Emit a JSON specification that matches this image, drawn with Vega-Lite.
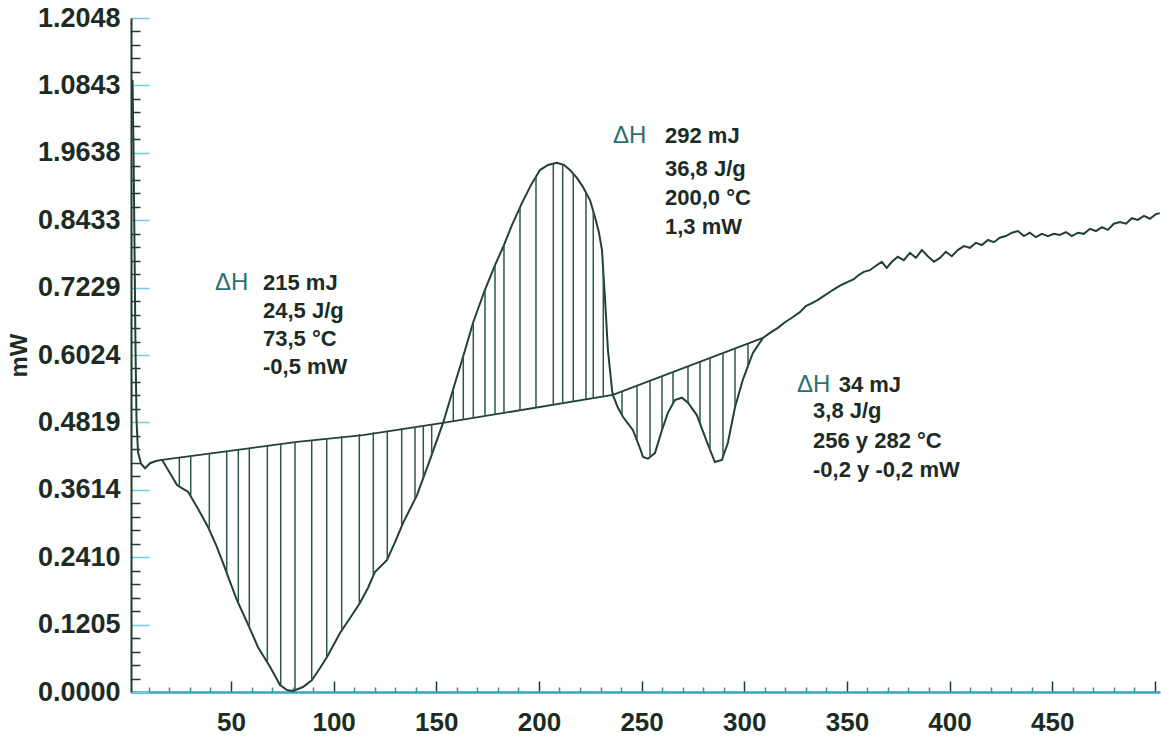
{
  "$schema": "https://vega.github.io/schema/vega-lite/v6.json",
  "width": 1029,
  "height": 674,
  "autosize": {"type": "none"},
  "padding": {"left": 131, "top": 18, "right": 1, "bottom": 47},
  "background": "white",
  "config": {"view": {"stroke": null}},
  "datasets": {
    "curve": [
      {"x": 2.05, "y": 1.094}, {"x": 2.53, "y": 0.969}, {"x": 3.02, "y": 0.79}, {"x": 3.51, "y": 0.611},
      {"x": 3.99, "y": 0.486}, {"x": 4.72, "y": 0.429}, {"x": 6.18, "y": 0.408}, {"x": 8.13, "y": 0.4},
      {"x": 10.57, "y": 0.409}, {"x": 13.49, "y": 0.413}, {"x": 16.41, "y": 0.415}, {"x": 20.31, "y": 0.391},
      {"x": 23.72, "y": 0.37}, {"x": 26.64, "y": 0.363}, {"x": 29.1, "y": 0.358}, {"x": 34.0, "y": 0.327},
      {"x": 38.82, "y": 0.295}, {"x": 42.71, "y": 0.263}, {"x": 46.12, "y": 0.231}, {"x": 49.53, "y": 0.197},
      {"x": 52.94, "y": 0.164}, {"x": 57.81, "y": 0.125}, {"x": 63.17, "y": 0.08}, {"x": 69.01, "y": 0.045},
      {"x": 73.88, "y": 0.0125}, {"x": 77.29, "y": 0.0036}, {"x": 80.21, "y": 0.0018}, {"x": 85.08, "y": 0.0089},
      {"x": 89.47, "y": 0.0215}, {"x": 93.36, "y": 0.0429}, {"x": 96.77, "y": 0.0626}, {"x": 103.1, "y": 0.1055},
      {"x": 108.0, "y": 0.1323}, {"x": 112.8, "y": 0.1591}, {"x": 116.7, "y": 0.1859}, {"x": 120.1, "y": 0.2145},
      {"x": 126.0, "y": 0.236}, {"x": 129.9, "y": 0.268}, {"x": 133.8, "y": 0.302}, {"x": 140.6, "y": 0.352},
      {"x": 146.9, "y": 0.415}, {"x": 153.3, "y": 0.481}, {"x": 159.1, "y": 0.552}, {"x": 164.0, "y": 0.611},
      {"x": 167.9, "y": 0.66}, {"x": 173.7, "y": 0.719}, {"x": 178.6, "y": 0.763}, {"x": 182.5, "y": 0.795},
      {"x": 186.9, "y": 0.835}, {"x": 191.7, "y": 0.874}, {"x": 196.1, "y": 0.906}, {"x": 200.5, "y": 0.933},
      {"x": 204.4, "y": 0.942}, {"x": 208.7, "y": 0.946}, {"x": 212.2, "y": 0.942}, {"x": 215.1, "y": 0.933},
      {"x": 218.5, "y": 0.919}, {"x": 221.4, "y": 0.903}, {"x": 224.9, "y": 0.879}, {"x": 227.3, "y": 0.849},
      {"x": 229.2, "y": 0.822}, {"x": 230.7, "y": 0.79}, {"x": 232.2, "y": 0.701}, {"x": 233.6, "y": 0.611},
      {"x": 235.6, "y": 0.54}, {"x": 236.0, "y": 0.531}, {"x": 238.5, "y": 0.508}, {"x": 240.9, "y": 0.492},
      {"x": 245.8, "y": 0.468}, {"x": 249.2, "y": 0.436}, {"x": 250.7, "y": 0.42}, {"x": 253.1, "y": 0.417},
      {"x": 256.5, "y": 0.427}, {"x": 259.9, "y": 0.468}, {"x": 262.8, "y": 0.499}, {"x": 266.2, "y": 0.522},
      {"x": 269.6, "y": 0.526}, {"x": 272.6, "y": 0.517}, {"x": 276.9, "y": 0.495}, {"x": 281.8, "y": 0.447},
      {"x": 285.7, "y": 0.411}, {"x": 289.1, "y": 0.415}, {"x": 292.0, "y": 0.445}, {"x": 295.5, "y": 0.509},
      {"x": 299.3, "y": 0.558}, {"x": 304.2, "y": 0.606}, {"x": 309.1, "y": 0.633}, {"x": 312.5, "y": 0.642},
      {"x": 316.4, "y": 0.651}, {"x": 319.8, "y": 0.661}, {"x": 323.2, "y": 0.669}, {"x": 327.1, "y": 0.679},
      {"x": 330.0, "y": 0.69}, {"x": 333.0, "y": 0.695}, {"x": 335.9, "y": 0.701}, {"x": 338.8, "y": 0.708},
      {"x": 341.7, "y": 0.715}, {"x": 344.6, "y": 0.722}, {"x": 347.5, "y": 0.728}, {"x": 350.5, "y": 0.733},
      {"x": 353.4, "y": 0.738}, {"x": 355.3, "y": 0.744}, {"x": 358.2, "y": 0.751}, {"x": 361.2, "y": 0.754},
      {"x": 364.1, "y": 0.762}, {"x": 367.0, "y": 0.769}, {"x": 369.4, "y": 0.758}, {"x": 371.9, "y": 0.769},
      {"x": 374.8, "y": 0.778}, {"x": 377.7, "y": 0.772}, {"x": 380.7, "y": 0.785}, {"x": 383.6, "y": 0.776},
      {"x": 386.5, "y": 0.79}, {"x": 389.4, "y": 0.779}, {"x": 392.4, "y": 0.769}, {"x": 395.3, "y": 0.776},
      {"x": 398.2, "y": 0.787}, {"x": 401.1, "y": 0.779}, {"x": 404.0, "y": 0.79}, {"x": 407.0, "y": 0.797},
      {"x": 409.9, "y": 0.794}, {"x": 412.8, "y": 0.803}, {"x": 415.7, "y": 0.799}, {"x": 418.7, "y": 0.808},
      {"x": 421.6, "y": 0.804}, {"x": 424.5, "y": 0.812}, {"x": 427.4, "y": 0.815}, {"x": 430.4, "y": 0.821},
      {"x": 433.3, "y": 0.824}, {"x": 436.2, "y": 0.815}, {"x": 439.1, "y": 0.821}, {"x": 442.0, "y": 0.813},
      {"x": 445.0, "y": 0.819}, {"x": 447.9, "y": 0.815}, {"x": 450.8, "y": 0.819}, {"x": 453.7, "y": 0.817},
      {"x": 456.7, "y": 0.822}, {"x": 459.6, "y": 0.815}, {"x": 462.5, "y": 0.821}, {"x": 465.4, "y": 0.819},
      {"x": 468.4, "y": 0.828}, {"x": 471.3, "y": 0.824}, {"x": 474.2, "y": 0.831}, {"x": 477.1, "y": 0.826},
      {"x": 480.0, "y": 0.837}, {"x": 483.0, "y": 0.84}, {"x": 485.9, "y": 0.837}, {"x": 488.8, "y": 0.847},
      {"x": 491.7, "y": 0.844}, {"x": 494.7, "y": 0.851}, {"x": 497.6, "y": 0.846}, {"x": 500.5, "y": 0.854},
      {"x": 502.4, "y": 0.856}
    ],
    "baseline": [
      {"x": 16.41, "y": 0.415}, {"x": 49.5, "y": 0.431}, {"x": 82.2, "y": 0.447}, {"x": 114.3, "y": 0.459},
      {"x": 153.3, "y": 0.481}, {"x": 236.0, "y": 0.531}, {"x": 309.1, "y": 0.633}
    ],
    "hatch": [
      {"x": 24.84, "y": 0.3665, "y2": 0.4188}, {"x": 30.39, "y": 0.3504, "y2": 0.4215},
      {"x": 39.45, "y": 0.2914, "y2": 0.4258}, {"x": 47.92, "y": 0.2127, "y2": 0.4299},
      {"x": 53.57, "y": 0.1591, "y2": 0.4326}, {"x": 58.93, "y": 0.1162, "y2": 0.4353},
      {"x": 67.7, "y": 0.0527, "y2": 0.4394}, {"x": 74.22, "y": 0.0107, "y2": 0.4426},
      {"x": 81.19, "y": 0.0036, "y2": 0.446}, {"x": 89.32, "y": 0.0206, "y2": 0.4499},
      {"x": 96.63, "y": 0.0617, "y2": 0.4535}, {"x": 103.93, "y": 0.1099, "y2": 0.4571},
      {"x": 112.5, "y": 0.1573, "y2": 0.4612}, {"x": 119.32, "y": 0.2074, "y2": 0.4644},
      {"x": 126.14, "y": 0.2369, "y2": 0.4678}, {"x": 133.15, "y": 0.2967, "y2": 0.4712},
      {"x": 139.63, "y": 0.345, "y2": 0.4737}, {"x": 143.67, "y": 0.3825, "y2": 0.4757},
      {"x": 147.76, "y": 0.4237, "y2": 0.4776},
      {"x": 158.28, "y": 0.5422, "y2": 0.4839}, {"x": 163.15, "y": 0.6013, "y2": 0.4868},
      {"x": 168.02, "y": 0.6614, "y2": 0.4898}, {"x": 173.72, "y": 0.7186, "y2": 0.4932},
      {"x": 178.59, "y": 0.7633, "y2": 0.4962}, {"x": 182.97, "y": 0.7998, "y2": 0.4987},
      {"x": 190.77, "y": 0.8663, "y2": 0.5036}, {"x": 198.56, "y": 0.9212, "y2": 0.5082},
      {"x": 206.99, "y": 0.9442, "y2": 0.5134}, {"x": 211.56, "y": 0.9428, "y2": 0.5161},
      {"x": 216.72, "y": 0.9263, "y2": 0.5191}, {"x": 222.91, "y": 0.8927, "y2": 0.5229},
      {"x": 226.46, "y": 0.8598, "y2": 0.525}, {"x": 231.33, "y": 0.7526, "y2": 0.5281},
      {"x": 240.46, "y": 0.4948, "y2": 0.537}, {"x": 247.76, "y": 0.4499, "y2": 0.5472},
      {"x": 254.1, "y": 0.4196, "y2": 0.5561}, {"x": 259.94, "y": 0.4684, "y2": 0.5642},
      {"x": 265.3, "y": 0.5154, "y2": 0.5717}, {"x": 272.6, "y": 0.5166, "y2": 0.5819},
      {"x": 278.45, "y": 0.4807, "y2": 0.5901}, {"x": 283.32, "y": 0.4335, "y2": 0.5969},
      {"x": 289.65, "y": 0.4197, "y2": 0.6056}, {"x": 295.49, "y": 0.5095, "y2": 0.6139},
      {"x": 301.82, "y": 0.5819, "y2": 0.6226}
    ],
    "notes": [
      {"x": 42.2, "y": 0.7311, "text": "ΔH", "kind": "dh"},
      {"x": 65.6, "y": 0.7311, "text": "215 mJ", "kind": "v"},
      {"x": 65.6, "y": 0.6811, "text": "24,5 J/g", "kind": "v"},
      {"x": 65.6, "y": 0.631, "text": "73,5 °C", "kind": "v"},
      {"x": 65.6, "y": 0.581, "text": "-0,5 mW", "kind": "v"},
      {"x": 236.1, "y": 0.9939, "text": "ΔH", "kind": "dh"},
      {"x": 261.4, "y": 0.9939, "text": "292 mJ", "kind": "v"},
      {"x": 261.4, "y": 0.9349, "text": "36,8 J/g", "kind": "v"},
      {"x": 261.4, "y": 0.8831, "text": "200,0 °C", "kind": "v"},
      {"x": 261.4, "y": 0.8312, "text": "1,3 mW", "kind": "v"},
      {"x": 325.7, "y": 0.5488, "text": "ΔH", "kind": "dh"},
      {"x": 346.0, "y": 0.5488, "text": "34 mJ", "kind": "v"},
      {"x": 333.5, "y": 0.5023, "text": "3,8 J/g", "kind": "v"},
      {"x": 333.5, "y": 0.4487, "text": "256  y 282 °C", "kind": "v"},
      {"x": 333.5, "y": 0.3969, "text": "-0,2 y -0,2 mW", "kind": "v"}
    ]
  },
  "layer": [
    {
      "encoding": {
        "x": {
          "field": "x", "type": "quantitative",
          "scale": {"domain": [1.3, 502.5], "nice": false, "zero": false},
          "axis": {
            "orient": "bottom", "title": null, "grid": false,
            "values": [50, 100, 150, 200, 250, 300, 350, 400, 450, 500],
            "domainColor": "#35a3c2", "domainWidth": 2.5,
            "tickColor": "#1f3a30", "tickSize": -11, "tickWidth": 1.5,
            "labelExpr": "datum.value < 500 ? datum.label : ''",
            "labelFont": "Liberation Sans", "labelFontWeight": "bold", "labelFontSize": 26,
            "labelColor": "#1d2b25", "labelPadding": 28, "labelOverlap": false, "labelFlush": false
          }
        },
        "y": {
          "field": "y", "type": "quantitative",
          "scale": {"domain": [0, 1.2048], "nice": false, "zero": false},
          "axis": {
            "orient": "left", "title": "mW", "grid": false,
            "values": [0, 0.12048, 0.24096, 0.36144, 0.48192, 0.6024, 0.72288, 0.84336, 0.96384, 1.08432, 1.2048],
            "domainColor": "#1f3a30", "domainWidth": 2,
            "tickColor": "#6fcfe0", "tickSize": -18, "tickWidth": 1.5,
            "labelExpr": "['0.0000','0.1205','0.2410','0.3614','0.4819','0.6024','0.7229','0.8433','1.9638','1.0843','1.2048'][round(datum.value/0.12048)]",
            "labelFont": "Liberation Sans", "labelFontWeight": "bold", "labelFontSize": 27,
            "labelColor": "#1d2b25", "labelPadding": 29, "labelOverlap": false, "labelFlush": false,
            "titleFont": "Liberation Sans", "titleFontWeight": "bold", "titleFontSize": 24,
            "titleColor": "#1d2b25", "titlePadding": 6
          }
        }
      },
      "layer": [
        {
          "data": {"name": "baseline"},
          "mark": {"type": "line", "color": "#22403a", "strokeWidth": 1.8},
          "encoding": {}
        },
        {
          "data": {"name": "curve"},
          "mark": {"type": "line", "color": "#22403a", "strokeWidth": 2},
          "encoding": {}
        },
        {
          "data": {"name": "notes"},
          "transform": [{"filter": "datum.kind === 'dh'"}],
          "mark": {"type": "text", "align": "left", "baseline": "middle", "font": "Liberation Sans", "fontSize": 24, "color": "#2b6f6e"},
          "encoding": {"text": {"field": "text"}}
        },
        {
          "data": {"name": "notes"},
          "transform": [{"filter": "datum.kind === 'v'"}],
          "mark": {"type": "text", "align": "left", "baseline": "middle", "font": "Liberation Sans", "fontWeight": "bold", "fontSize": 22, "color": "#1d2b25"},
          "encoding": {"text": {"field": "text"}}
        }
      ]
    },
    {
      "data": {"name": "hatch"},
      "mark": {"type": "rule", "color": "#2d5550", "strokeWidth": 1.5},
      "encoding": {
        "x": {
          "field": "x", "type": "quantitative",
          "scale": {"domain": [1.3, 502.5], "nice": false, "zero": false},
          "axis": {
            "orient": "bottom", "title": null, "grid": false, "labels": false, "domain": false,
            "values": [10,20,30,40,60,70,80,90,110,120,130,140,160,170,180,190,210,220,230,240,260,270,280,290,310,320,330,340,360,370,380,390,410,420,430,440,460,470,480,490],
            "tickColor": "#3f8f9c", "tickSize": -5, "tickWidth": 1.5
          }
        },
        "y": {
          "field": "y", "type": "quantitative",
          "scale": {"domain": [0, 1.2048], "nice": false, "zero": false},
          "axis": {
            "orient": "left", "title": null, "grid": false, "labels": false, "domain": false,
            "values": [0.024096,0.048192,0.072288,0.096384,0.144576,0.168672,0.192768,0.216864,0.265056,0.289152,0.313248,0.337344,0.385536,0.409632,0.433728,0.457824,0.506016,0.530112,0.554208,0.578304,0.626496,0.650592,0.674688,0.698784,0.746976,0.771072,0.795168,0.819264,0.867456,0.891552,0.915648,0.939744,0.987936,1.012032,1.036128,1.060224,1.108416,1.132512,1.156608,1.180704],
            "tickColor": "#1f3a30", "tickSize": -9, "tickWidth": 1.5
          }
        },
        "y2": {"field": "y2"}
      }
    }
  ],
  "resolve": {"axis": {"x": "independent", "y": "independent"}}
}
